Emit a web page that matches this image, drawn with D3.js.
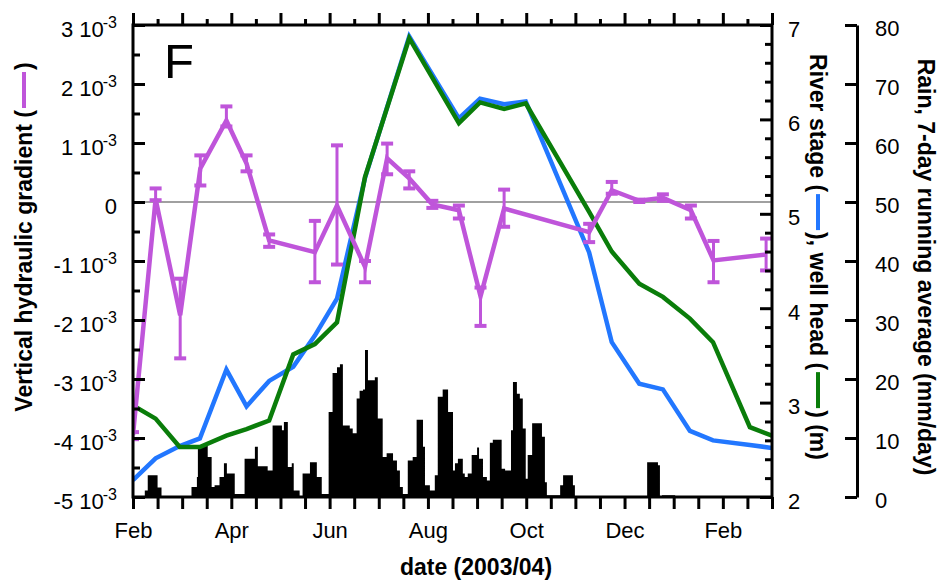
<!DOCTYPE html>
<html>
<head>
<meta charset="utf-8">
<script src="https://cdn.jsdelivr.net/npm/d3@7"></script>
<style>
  body { margin: 0; background: #fff; }
  text { font-family: "Liberation Sans", Arial, Helvetica, sans-serif; }
</style>
</head>
<body>
<div id="chart"></div>
<script>
// time axis in months counted from 1 Feb 2003
var monthNames = ["Feb", "Mar", "Apr", "May", "Jun", "Jul", "Aug", "Sep", "Oct", "Nov", "Dec", "Jan", "Feb", "Mar"];

// vertical hydraulic gradient (x 1e-3) with error bar ends
var gradT  = [0, 0.46, 0.96, 1.37, 1.90, 2.31, 2.77, 3.70, 4.15, 4.72, 5.17, 5.62, 6.09, 6.63, 7.07, 7.55, 9.28, 9.74, 10.30, 10.78, 11.35, 11.81, 12.88];
var gradV  = [-3.95, 0.05, -1.92, 0.57, 1.38, 0.65, -0.65, -0.85, -0.06, -1.10, 0.74, 0.40, -0.04, -0.14, -1.60, -0.11, -0.51, 0.20, 0.02, 0.07, -0.14, -0.99, -0.89];
var gradLo = [-4.02, 0.03, -2.65, 0.28, 1.28, 0.52, -0.76, -1.36, -1.06, -1.36, 0.47, 0.23, -0.10, -0.28, -2.10, -0.42, -0.68, 0.14, 0.00, 0.02, -0.28, -1.36, -1.16];
var gradHi = [-3.90, 0.23, -1.30, 0.79, 1.62, 0.79, -0.55, -0.32, 0.96, -1.00, 0.99, 0.52, 0.02, -0.06, -1.45, 0.21, -0.37, 0.34, 0.04, 0.13, -0.06, -0.66, -0.62];

// river stage and well head (m)
var stageT     = [0, 0.46, 0.95, 1.36, 1.90, 2.31, 2.77, 3.26, 3.70, 4.15, 4.72, 5.62, 6.63, 7.06, 7.55, 7.99, 9.28, 9.74, 10.30, 10.78, 11.33, 11.80, 12.55, 13.0];
var riverStage = [2.18, 2.41, 2.54, 2.62, 3.35, 2.96, 3.23, 3.38, 3.71, 4.10, 5.38, 6.88, 6.01, 6.22, 6.16, 6.19, 4.59, 3.64, 3.20, 3.14, 2.70, 2.60, 2.55, 2.52];
var wellHead   = [2.97, 2.83, 2.53, 2.53, 2.65, 2.72, 2.81, 3.51, 3.62, 3.85, 5.39, 6.86, 5.96, 6.18, 6.11, 6.17, 5.02, 4.60, 4.26, 4.12, 3.89, 3.64, 2.74, 2.65];

// rain, 7-day running average (mm/day), value holds from each time to the next
var rainT = [0, 0.24, 0.30, 0.50, 0.58, 1.19, 1.30, 1.32, 1.52, 1.60,
  1.66, 1.76, 1.85, 1.91, 2.07, 2.27, 2.48, 2.54, 2.74, 2.84,
  3.03, 3.07, 3.15, 3.23, 3.27, 3.39, 3.45, 3.60, 3.74, 3.84,
  3.98, 4.06, 4.15, 4.21, 4.27, 4.41, 4.47, 4.55, 4.61, 4.68,
  4.72, 4.78, 4.92, 4.98, 5.08, 5.16, 5.29, 5.37, 5.43, 5.49,
  5.59, 5.69, 5.77, 5.90, 5.94, 6.04, 6.14, 6.20, 6.30, 6.41,
  6.51, 6.55, 6.61, 6.71, 6.75, 6.81, 6.89, 7.00, 7.04, 7.12,
  7.20, 7.26, 7.32, 7.50, 7.57, 7.69, 7.73, 7.81, 7.87, 7.93,
  7.99, 8.03, 8.12, 8.32, 8.38, 8.42, 8.69, 8.75, 8.95, 8.99,
  10.46, 10.68, 10.72, 10.76, 11.03];
var rainV = [0, 1.1, 3.7, 1.6, 0, 1.7, 3.4, 8.8, 6.8, 1.7,
  2.0, 3.4, 5.7, 4.0, 0.5, 6.5, 8.5, 5.2, 4.5, 12.1,
  11.3, 12.7, 5.1, 5.7, 1.1, 0, 4.0, 5.9, 3.4, 0.5,
  14.4, 21, 22, 22.5, 12.1, 11.6, 10.8, 16.7, 18, 18.2,
  24.9, 19.8, 20.3, 13.3, 6.8, 7.4, 6.2, 4.5, 1.7, 0.5,
  6.2, 6.8, 13.1, 8.5, 2.0, 1.1, 3.7, 17, 18.2, 14.4,
  4.5, 5.7, 6.5, 4.0, 3.4, 4.0, 7.1, 8.4, 6.5, 3.4,
  2.8, 9.2, 9.7, 4.8, 4.5, 11.3, 19.5, 17.5, 16.7, 11.6,
  3.1, 7.1, 12.5, 10.2, 2.5, 0.3, 2.0, 3.7, 2.0, 0,
  5.9, 5.4, 0, 0.3, 0];

var gradTicks = [-5, -4, -3, -2, -1, 0, 1, 2, 3];
var stageTicks = [2, 3, 4, 5, 6, 7];
var rainTicks = [0, 10, 20, 30, 40, 50, 60, 70, 80];

var purple = "#bf55da", blue = "#2277ff", green = "#0a7d0a";

var W = 940, H = 584;
var plot = { left: 133, right: 772, top: 25, bottom: 497 };

var svg = d3.select("#chart").append("svg")
    .attr("width", W)
    .attr("height", H);

var x = d3.scaleLinear().domain([0, 13]).range([plot.left, plot.right]);
var yGrad = d3.scaleLinear().domain([-5, 3]).range([plot.bottom, plot.top]);
var yStage = d3.scaleLinear().domain([2, 7]).range([plot.bottom, plot.top]);
var yRain = d3.scaleLinear().domain([0, 80]).range([plot.bottom, plot.top]);

svg.append("clipPath").attr("id", "clip")
  .append("rect")
    .attr("x", plot.left).attr("y", plot.top)
    .attr("width", plot.right - plot.left)
    .attr("height", plot.bottom - plot.top);

var plotG = svg.append("g").attr("clip-path", "url(#clip)");

// rain as a step area
var rain = rainT.map(function(t, i) { return { t: t, v: rainV[i] }; });
plotG.append("path")
    .datum(rain)
    .attr("fill", "#000")
    .attr("d", d3.area()
      .curve(d3.curveStepAfter)
      .x(function(d) { return x(d.t); })
      .y0(yRain(0))
      .y1(function(d) { return yRain(d.v); }));

// zero line
plotG.append("line")
    .attr("x1", plot.left).attr("x2", plot.right)
    .attr("y1", yGrad(0)).attr("y2", yGrad(0))
    .attr("stroke", "#a0a0a0")
    .attr("stroke-width", 2);

function drawStage(values, color) {
  var pts = stageT.map(function(t, i) { return [t, values[i]]; });
  plotG.append("path")
      .datum(pts)
      .attr("fill", "none")
      .attr("stroke", color)
      .attr("stroke-width", 4.5)
      .attr("d", d3.line()
        .x(function(d) { return x(d[0]); })
        .y(function(d) { return yStage(d[1]); }));
}
drawStage(riverStage, blue);
drawStage(wellHead, green);

// gradient with error bars
var grad = gradT.map(function(t, i) { return { t: t, v: gradV[i], lo: gradLo[i], hi: gradHi[i] }; });
plotG.append("path")
    .datum(grad)
    .attr("fill", "none")
    .attr("stroke", purple)
    .attr("stroke-width", 4.5)
    .attr("d", d3.line()
      .x(function(d) { return x(d.t); })
      .y(function(d) { return yGrad(d.v); }));

var eb = plotG.selectAll(".eb").data(grad).enter().append("g").attr("class", "eb");
eb.append("line")
    .attr("x1", function(d) { return x(d.t); })
    .attr("x2", function(d) { return x(d.t); })
    .attr("y1", function(d) { return yGrad(d.lo); })
    .attr("y2", function(d) { return yGrad(d.hi); })
    .attr("stroke", purple).attr("stroke-width", 3);
["lo", "hi"].forEach(function(k) {
  eb.append("line")
      .attr("x1", function(d) { return x(d.t) - 6; })
      .attr("x2", function(d) { return x(d.t) + 6; })
      .attr("y1", function(d) { return yGrad(d[k]); })
      .attr("y2", function(d) { return yGrad(d[k]); })
      .attr("stroke", purple).attr("stroke-width", 4);
});

// axes
function styleAxis(g) {
  g.attr("font-size", 22).attr("font-family", null);
  g.selectAll(".tick line").attr("stroke-width", 3);
  g.selectAll(".tick text").attr("fill", "#000");
}

var halfMonths = d3.range(0, 13.01, 0.5);
svg.append("g")
    .attr("transform", "translate(0," + plot.bottom + ")")
    .call(d3.axisBottom(x).tickValues(halfMonths).tickSizeInner(12).tickSizeOuter(0).tickPadding(13)
      .tickFormat(function(d) { return d % 2 === 0 ? monthNames[d] : ""; }))
    .call(styleAxis)
    .call(function(g) { g.select(".domain").remove(); });

svg.append("g")
    .attr("transform", "translate(0," + plot.top + ")")
    .call(d3.axisTop(x).tickValues(d3.range(0, 14)).tickSizeInner(12).tickSizeOuter(0).tickFormat(""))
    .call(styleAxis)
    .call(function(g) { g.select(".domain").remove(); });
svg.append("g")
    .attr("transform", "translate(0," + plot.top + ")")
    .call(d3.axisTop(x).tickValues(d3.range(0.5, 13, 1)).tickSizeInner(6).tickSizeOuter(0).tickFormat(""))
    .call(styleAxis)
    .call(function(g) { g.select(".domain").remove(); });

// left axis: gradient
var leftAxis = svg.append("g")
    .attr("transform", "translate(" + plot.left + ",0)")
    .call(d3.axisLeft(yGrad).tickValues(gradTicks).tickSizeInner(-12).tickSizeOuter(0).tickPadding(16))
    .call(styleAxis)
    .call(function(g) { g.select(".domain").remove(); });
leftAxis.selectAll(".tick text")
    .attr("dy", "0.5em")
    .each(function(d) {
      var t = d3.select(this);
      t.text(null);
      if (d === 0) { t.text("0"); return; }
      t.append("tspan").text(d + " 10");
      t.append("tspan").attr("dy", -9).attr("dx", -1).attr("font-size", 16).text("-3");
    });
svg.append("g")
    .attr("transform", "translate(" + plot.left + ",0)")
    .call(d3.axisLeft(yGrad).tickValues(d3.range(-4.5, 3, 1)).tickSizeInner(-7).tickSizeOuter(0).tickFormat(""))
    .call(styleAxis)
    .call(function(g) { g.select(".domain").remove(); });

// right axis: river stage / well head
svg.append("g")
    .attr("transform", "translate(" + plot.right + ",0)")
    .call(d3.axisRight(yStage).tickValues(stageTicks).tickSizeInner(-12).tickSizeOuter(0).tickPadding(16).tickFormat(d3.format("d")))
    .call(styleAxis)
    .call(function(g) { g.select(".domain").remove(); g.selectAll(".tick text").attr("dy", "0.5em"); });
var stageMinor = d3.range(2, 7.001, 0.2).filter(function(v) { return Math.abs(v - Math.round(v)) > 0.01; });
svg.append("g")
    .attr("transform", "translate(" + plot.right + ",0)")
    .call(d3.axisRight(yStage).tickValues(stageMinor).tickSizeInner(-7).tickSizeOuter(0).tickFormat(""))
    .call(styleAxis)
    .call(function(g) { g.select(".domain").remove(); });

// rain axis
var rainAxis = svg.append("g")
    .attr("transform", "translate(857,0)")
    .call(d3.axisRight(yRain).tickValues(rainTicks).tickSizeInner(-12).tickSizeOuter(0).tickPadding(18).tickFormat(d3.format("d")))
    .call(styleAxis);
rainAxis.select(".domain").attr("stroke-width", 3);
rainAxis.selectAll(".tick text").attr("dy", "0.47em");

// frame
svg.append("rect")
    .attr("x", plot.left).attr("y", plot.top)
    .attr("width", plot.right - plot.left)
    .attr("height", plot.bottom - plot.top)
    .attr("fill", "none")
    .attr("stroke", "#000")
    .attr("stroke-width", 3);

// panel letter
svg.append("text")
    .attr("x", 164).attr("y", 78)
    .attr("font-size", 49)
    .text("F");

// titles with coloured line keys
function keyedTitle(cx, cy, angle, parts, keyColors) {
  var g = svg.append("g").attr("transform", "translate(" + cx + "," + cy + ") rotate(" + angle + ")");
  var inner = g.append("g");
  var keyLen = 36, pos = 0;
  parts.forEach(function(p, i) {
    var t = inner.append("text")
        .attr("x", pos)
        .attr("font-size", 23)
        .attr("font-weight", "bold")
        .text(p);
    pos += t.node().getComputedTextLength();
    if (i < keyColors.length) {
      inner.append("line")
          .attr("x1", pos + 2).attr("x2", pos + 2 + keyLen)
          .attr("y1", -8).attr("y2", -8)
          .attr("stroke", keyColors[i])
          .attr("stroke-width", 4);
      pos += keyLen + 4;
    }
  });
  inner.attr("transform", "translate(" + (-pos / 2) + ",0)");
}

keyedTitle(32, 237, -90, ["Vertical hydraulic gradient (", ")"], [purple]);
keyedTitle(810, 257, 90, ["River stage (", "), well head (", ") (m)"], [blue, green]);
keyedTitle(918, 267, 90, ["Rain, 7-day running average (mm/day)"], []);

svg.append("text")
    .attr("x", 476).attr("y", 575)
    .attr("text-anchor", "middle")
    .attr("font-size", 23)
    .attr("font-weight", "bold")
    .text("date (2003/04)");
</script>
</body>
</html>
